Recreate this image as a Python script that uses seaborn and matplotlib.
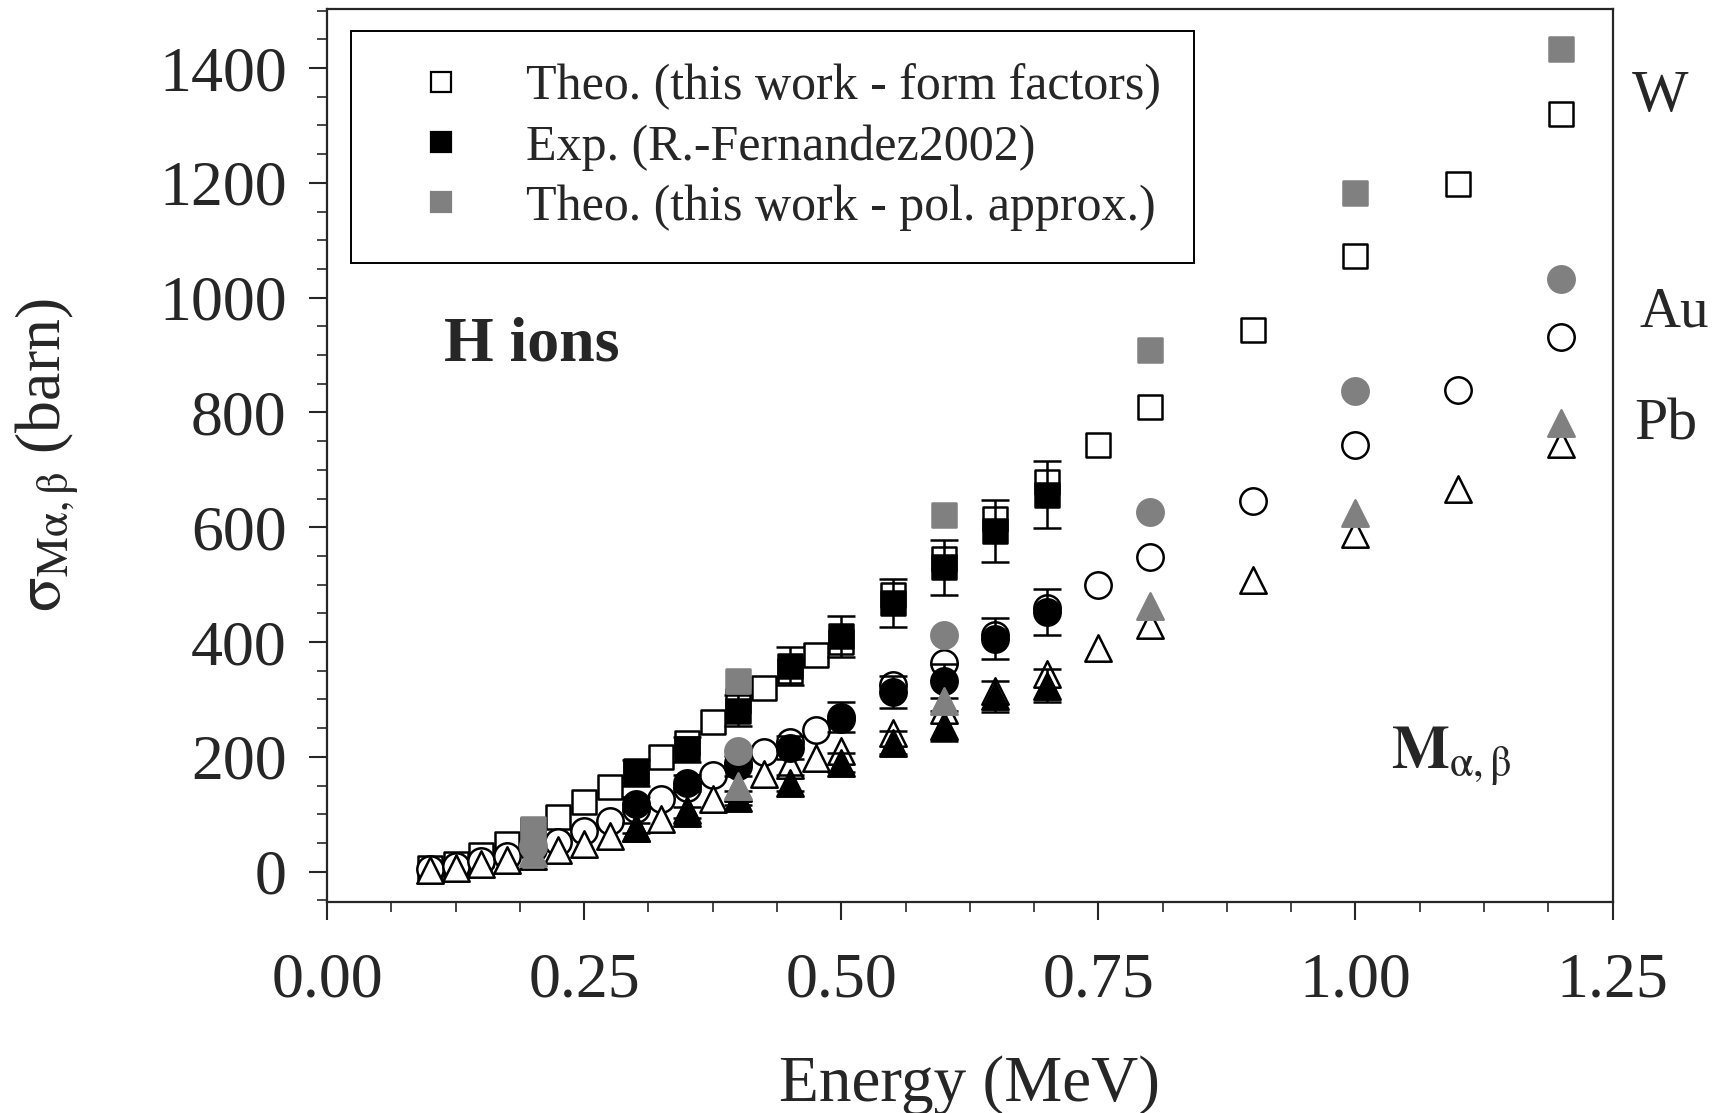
import numpy as np
import pandas as pd
import matplotlib
matplotlib.use("Agg")
import matplotlib.pyplot as plt
from matplotlib.lines import Line2D
from matplotlib.ticker import MultipleLocator, FormatStrFormatter
import seaborn as sns

# theory (form factors), fine grid + high-energy points
e_theo = [0.1, 0.125, 0.15, 0.175, 0.2, 0.225, 0.25, 0.275, 0.3, 0.325, 0.35, 0.375,
          0.4, 0.425, 0.45, 0.475, 0.5, 0.55, 0.6, 0.65, 0.7, 0.75, 0.8, 0.9, 1.0, 1.1, 1.2]
w_theo = [7, 14, 29, 48, 72, 95, 121, 147, 176, 199, 225, 260, 298, 320, 350, 378, 400,
          482, 545, 614, 678, 744, 810, 943, 1073, 1198, 1320]
au_theo = [4, 10, 18, 28, 40, 52, 70, 88, 110, 127, 146, 168, 190, 208, 226, 246, 266,
           325, 364, 412, 460, 500, 548, 646, 743, 839, 932]
pb_theo = [3, 7, 13, 20, 28, 37, 48, 62, 76, 92, 108, 126, 145, 170, 185, 198, 210,
           242, 282, 315, 345, 390, 430, 508, 588, 667, 745]

# experiment (R.-Fernandez 2002)
e_exp = [0.3, 0.35, 0.4, 0.45, 0.5, 0.55, 0.6, 0.65, 0.7]
w_exp = [172, 213, 280, 358, 410, 468, 530, 594, 657]
w_err = [22, 22, 27, 33, 36, 42, 48, 54, 58]
au_exp = [118, 155, 184, 216, 270, 313, 332, 406, 452]
au_err = [12, 14, 17, 20, 26, 28, 30, 36, 40]
pb_exp = [76, 103, 128, 155, 190, 225, 254, 306, 324]
pb_err = [8, 10, 12, 14, 17, 20, 26, 27, 29]

# theory (polynomial approx.)
e_pol = [0.2, 0.4, 0.6, 0.8, 1.0, 1.2]
w_pol = [75, 332, 621, 909, 1182, 1434]
au_pol = [45, 210, 413, 627, 837, 1033]
pb_pol = [32, 150, 297, 462, 625, 781]

sns.set_style("ticks")
plt.rcParams['font.family'] = ['Liberation Serif', 'DejaVu Serif']
plt.rcParams['mathtext.fontset'] = 'stix'

fig = plt.figure(figsize=(17.21, 11.13), dpi=100)
ax = fig.add_axes([0.190, 0.190, 0.747, 0.802])

gray = '#808080'
lw = 1.8
markers = {'W': 's', 'Au': 'o', 'Pb': '^'}
sizes = {'W': 17, 'Au': 19, 'Pb': 19}

theo = pd.DataFrame({'E': e_theo, 'W': w_theo, 'Au': au_theo, 'Pb': pb_theo})
exp = pd.DataFrame({'E': e_exp, 'W': w_exp, 'Au': au_exp, 'Pb': pb_exp,
                    'W_err': w_err, 'Au_err': au_err, 'Pb_err': pb_err})
pol = pd.DataFrame({'E': e_pol, 'W': w_pol, 'Au': au_pol, 'Pb': pb_pol})

for el in ['W', 'Au', 'Pb']:
    m, ms = markers[el], sizes[el]
    sns.scatterplot(data=theo, x='E', y=el, marker=m, s=ms**2, facecolor='white',
                    edgecolor='black', linewidth=lw, ax=ax, zorder=3)
    ax.errorbar(exp['E'], exp[el], yerr=exp[el + '_err'], fmt='none', ecolor='black',
                elinewidth=lw, capsize=10, capthick=lw, zorder=4)
    sns.scatterplot(data=exp, x='E', y=el, marker=m, s=ms**2, color='black',
                    edgecolor='black', linewidth=lw, ax=ax, zorder=5)
    sns.scatterplot(data=pol, x='E', y=el, marker=m, s=ms**2, color=gray,
                    edgecolor=gray, linewidth=lw, ax=ax, zorder=6)

ax.set_xlim(0, 1.25)
ax.set_ylim(-52, 1503)
ax.xaxis.set_major_locator(MultipleLocator(0.25))
ax.xaxis.set_minor_locator(MultipleLocator(0.0625))
ax.xaxis.set_major_formatter(FormatStrFormatter('%.2f'))
ax.yaxis.set_major_locator(MultipleLocator(200))
ax.yaxis.set_minor_locator(MultipleLocator(50))
ax.tick_params(axis='both', which='major', direction='out', length=13, width=1.5,
               labelsize=46, top=False, right=False)
ax.tick_params(axis='both', which='minor', direction='out', length=7, width=1.2,
               top=False, right=False)
ax.tick_params(axis='x', which='major', pad=24)
ax.tick_params(axis='y', which='major', pad=16)
for sp in ax.spines.values():
    sp.set_linewidth(1.6)
    sp.set_visible(True)

ax.set_xlabel('Energy (MeV)', fontsize=47, labelpad=32)
ax.set_ylabel(r'$\mathrm{\sigma}_{\mathrm{M\alpha,\beta}}$ (barn)', fontsize=46, labelpad=56)

ax.text(0.114, 917, 'H ions', fontsize=46, fontweight='bold', va='center', ha='left')
ax.text(1.035, 200, r'$\mathbf{M}_{\mathrm{\alpha,\beta}}$', fontsize=44, va='center', ha='left')
for lab, xx, yy, fs in [('W', 1.269, 1350, 43), ('Au', 1.276, 974, 41), ('Pb', 1.271, 778, 43)]:
    ax.text(xx, yy, lab, fontsize=fs, va='center', ha='left', clip_on=False)

handles = [
    Line2D([], [], ls='none', marker='s', ms=14, mfc='white', mec='black', mew=1.6),
    Line2D([], [], ls='none', marker='s', ms=14, mfc='black', mec='black', mew=1.6),
    Line2D([], [], ls='none', marker='s', ms=14, mfc=gray, mec=gray, mew=1.6),
]
labels = ['Theo. (this work - form factors)', 'Exp. (R.-Fernandez2002)',
          'Theo. (this work - pol. approx.)']
leg = ax.legend(handles, labels, loc='upper left', bbox_to_anchor=(0.019, 0.975),
                fontsize=36, frameon=True, fancybox=False, framealpha=1,
                edgecolor='black', borderpad=0.65, labelspacing=0.27,
                handlelength=2.3, handletextpad=0.55, borderaxespad=0)
leg.get_frame().set_linewidth(1.4)

fig.savefig('out.png', dpi=100)
